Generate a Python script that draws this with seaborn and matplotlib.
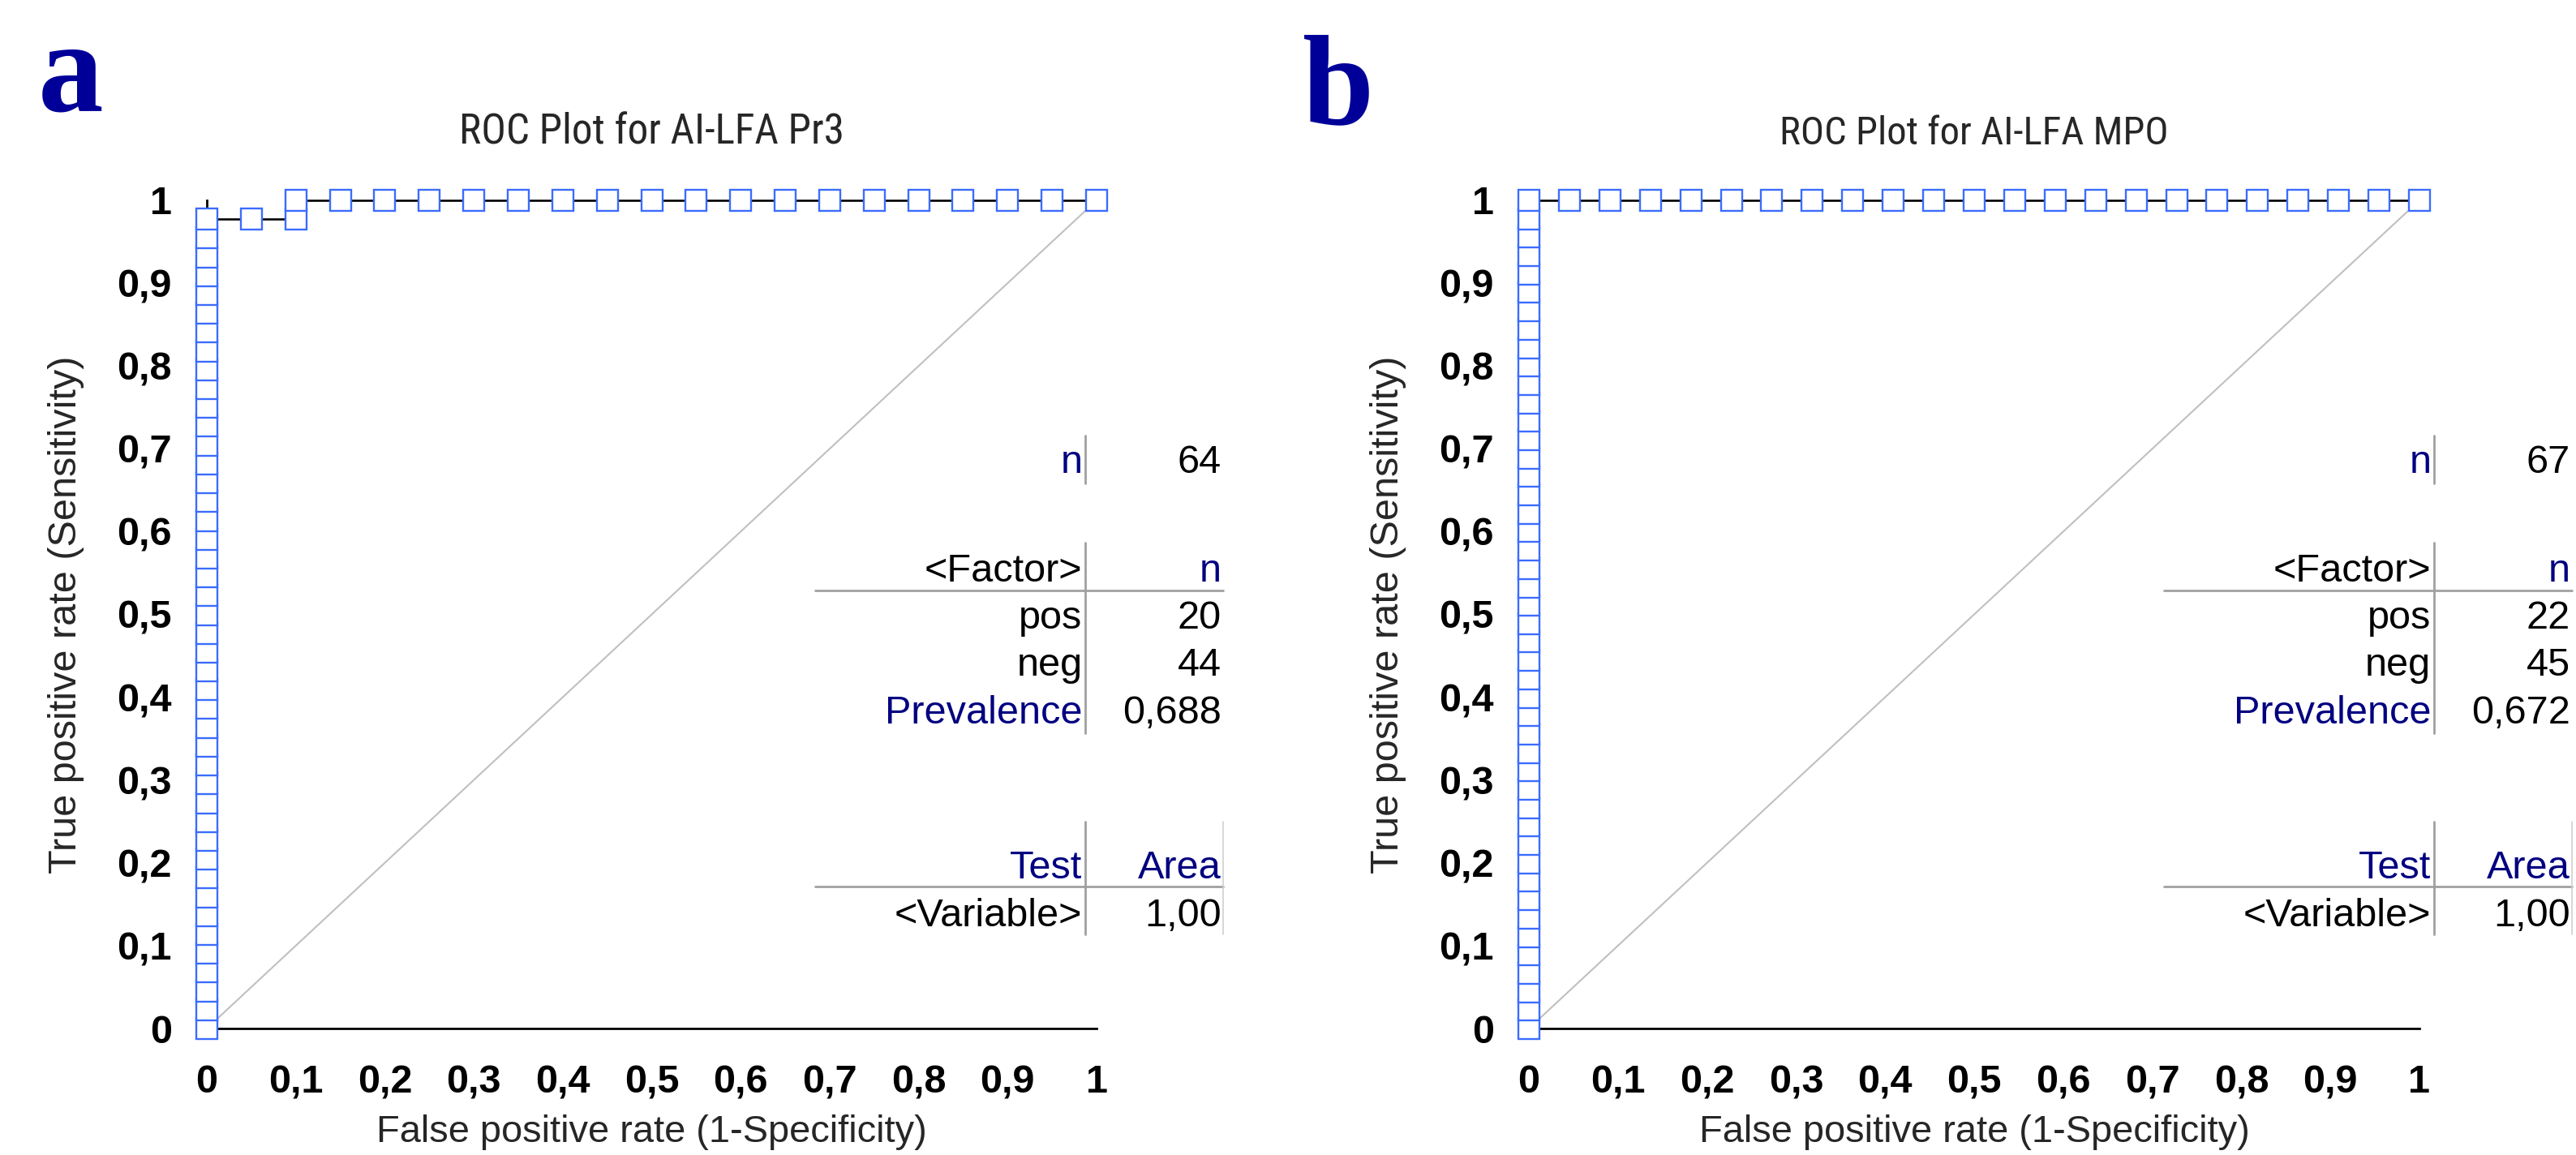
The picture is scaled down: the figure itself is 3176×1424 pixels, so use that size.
import os
import matplotlib
matplotlib.use("Agg")
import matplotlib.pyplot as plt
from matplotlib import font_manager as fm
import seaborn as sns
import pandas as pd

# ROC points, panel a (AI-LFA Pr3)
fpr_pr3 = [0] * 44 + [0.05, 0.1, 0.1, 0.15, 0.2, 0.25, 0.3, 0.35, 0.4, 0.45, 0.5,
                      0.55, 0.6, 0.65, 0.7, 0.75, 0.8, 0.85, 0.9, 0.95, 1.0]
tpr_pr3 = [0, .0227, .0455, .0682, .0909, .1136, .1364, .1591, .1818, .2045, .2273,
           .25, .2727, .2955, .3182, .3409, .3636, .3864, .4091, .4318, .4545, .4773,
           .5, .5227, .5455, .5682, .5909, .6136, .6364, .6591, .6818, .7045, .7273,
           .75, .7727, .7955, .8182, .8409, .8636, .8864, .9091, .9318, .9545, .9773,
           .9773, .9773] + [1.0] * 19

# ROC points, panel b (AI-LFA MPO)
fpr_mpo = [0] * 46 + [.0455, .0909, .1364, .1818, .2273, .2727, .3182, .3636, .4091,
                      .4545, .5, .5455, .5909, .6364, .6818, .7273, .7727, .8182,
                      .8636, .9091, .9545, 1.0]
tpr_mpo = [0, .0222, .0444, .0667, .0889, .1111, .1333, .1556, .1778, .2, .2222,
           .2444, .2667, .2889, .3111, .3333, .3556, .3778, .4, .4222, .4444, .4667,
           .4889, .5111, .5333, .5556, .5778, .6, .6222, .6444, .6667, .6889, .7111,
           .7333, .7556, .7778, .8, .8222, .8444, .8667, .8889, .9111, .9333, .9556,
           .9778] + [1.0] * 23

titles = ["ROC Plot for AI-LFA Pr3", "ROC Plot for AI-LFA MPO"]
panel_letters = ["a", "b"]
n_total = ["64", "67"]
n_pos = ["20", "22"]
n_neg = ["44", "45"]
prevalence = ["0,688", "0,672"]
area = ["1,00", "1,00"]

tick_vals = [0, 0.1, 0.2, 0.3, 0.4, 0.5, 0.6, 0.7, 0.8, 0.9, 1]
tick_labels = ["0", "0,1", "0,2", "0,3", "0,4", "0,5", "0,6", "0,7", "0,8", "0,9", "1"]

sns.set_style("white")
plt.rcParams["font.family"] = ["Liberation Sans", "DejaVu Sans"]


def narrow_font():
    # look for an installed condensed sans for the titles
    wanted = ["liberationsansnarrow-regular", "robotocondensed-regular",
              "notosans-condensed.", "notosans-condensedregular",
              "dejavusanscondensed.", "opensans_condensed-regular"]
    files = [f.fname for f in fm.fontManager.ttflist]
    for w in wanted:
        for f in files:
            if os.path.basename(f).lower().startswith(w):
                return fm.FontProperties(fname=f)
    return fm.FontProperties(family="Liberation Sans")


title_font = narrow_font()

W, H = 3176, 1424
fig = plt.figure(figsize=(W / 100, H / 100), dpi=100)
renderer = fig.canvas.get_renderer()

NAVY = "#000080"
BLUE = "#3b6cff"
GRID = "#a0a0a0"


def fit_width(txt, target_px):
    # scale a text so that its drawn width matches the reference
    w = txt.get_window_extent(renderer).width
    txt.set_fontsize(txt.get_fontsize() * target_px / w)


def draw_panel(ax, fpr, tpr, i, vx, right, hleft):
    ax.plot([0, 1], [0, 1], color="#c0c0c0", lw=1.5, zorder=1)
    df = pd.DataFrame({"fpr": fpr, "tpr": tpr})
    sns.lineplot(data=df, x="fpr", y="tpr", sort=False, estimator=None, ax=ax,
                 color="black", lw=1.9, marker="s", markersize=18.8,
                 markerfacecolor="white", markeredgecolor=BLUE,
                 markeredgewidth=1.7, clip_on=False, zorder=3)
    ax.set_xlim(0, 1)
    ax.set_ylim(0, 1)
    for s in ["top", "right"]:
        ax.spines[s].set_visible(False)
    for s in ["left", "bottom"]:
        ax.spines[s].set_color("black")
        ax.spines[s].set_linewidth(2.0)
    ax.set_xticks(tick_vals)
    ax.set_xticklabels(tick_labels, fontsize=35, fontweight="bold")
    ax.set_yticks(tick_vals)
    ax.set_yticklabels(tick_labels, fontsize=35, fontweight="bold")
    ax.tick_params(axis="x", direction="out", length=12, width=1.5, pad=20, colors="black")
    ax.tick_params(axis="y", direction="out", length=9, width=1.5, pad=22, colors="black")
    ax.set_xlabel("False positive rate (1-Specificity)", fontsize=33.8, va="center")
    ax.set_ylabel("True positive rate (Sensitivity)", fontsize=35, va="center")
    ax.xaxis.set_label_coords(0.5, -0.125)
    ax.yaxis.set_label_coords(-0.158, 0.5)
    t = ax.set_title(titles[i], fontproperties=title_font, fontsize=37, pad=50)
    fit_width(t, 475 if i == 0 else 480)

    # summary tables
    fs = 35
    kw = dict(fontsize=fs, ha="right", va="baseline", clip_on=False, zorder=4)
    lx = vx - 0.003
    rx = right - 0.002
    ax.text(lx, 0.671, "n", color=NAVY, **kw)
    ax.text(rx, 0.671, n_total[i], color="black", **kw)
    ax.text(lx, 0.540, "<Factor>", color="black", **kw)
    ax.text(rx, 0.540, "n", color=NAVY, **kw)
    ax.text(lx, 0.483, "pos", color="black", **kw)
    ax.text(rx, 0.483, n_pos[i], color="black", **kw)
    ax.text(lx, 0.426, "neg", color="black", **kw)
    ax.text(rx, 0.426, n_neg[i], color="black", **kw)
    ax.text(lx, 0.368, "Prevalence", color=NAVY, **kw)
    ax.text(rx, 0.368, prevalence[i], color="black", **kw)
    ax.text(lx, 0.181, "Test", color=NAVY, **kw)
    ax.text(rx, 0.181, "Area", color=NAVY, **kw)
    ax.text(lx, 0.123, "<Variable>", color="black", **kw)
    ax.text(rx, 0.123, area[i], color="black", **kw)

    lkw = dict(color=GRID, lw=2.0, clip_on=False, zorder=4)
    ax.plot([vx, vx], [0.716, 0.658], **lkw)
    ax.plot([vx, vx], [0.587, 0.357], **lkw)
    ax.plot([hleft, right], [0.529, 0.529], **lkw)
    ax.plot([vx, vx], [0.250, 0.114], **lkw)
    ax.plot([hleft, right], [0.171, 0.171], **lkw)
    ax.plot([right, right], [0.250, 0.114], color="#d0d0d0", lw=1.2, clip_on=False, zorder=4)


ax_a = fig.add_axes([255 / W, 1 - 1268 / H, 1097 / W, 1021 / H])
ax_b = fig.add_axes([1885 / W, 1 - 1268 / H, 1098 / W, 1021 / H])

draw_panel(ax_a, fpr_pr3, tpr_pr3, 0, 0.987, 1.142, 0.684)
draw_panel(ax_b, fpr_mpo, tpr_mpo, 1, 1.016, 1.171, 0.713)

fig.text(47 / W, 1 - 137 / H, panel_letters[0], fontsize=116, fontweight="bold",
         family=["Liberation Serif", "DejaVu Serif"], color="#000099", ha="left", va="baseline")
fig.text(1606 / W, 1 - 152 / H, panel_letters[1], fontsize=114, fontweight="bold",
         family=["Liberation Serif", "DejaVu Serif"], color="#000099", ha="left", va="baseline")

fig.savefig("out.png", dpi=100, facecolor="white")
